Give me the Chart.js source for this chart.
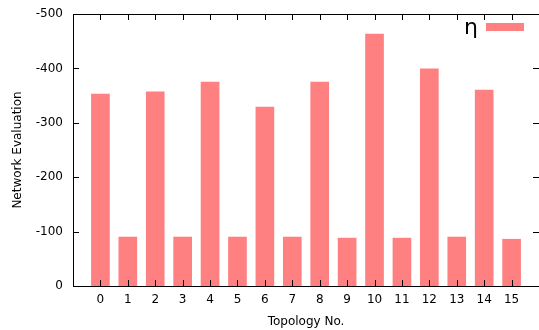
<!DOCTYPE html>
<html>
<head>
<meta charset="utf-8">
<script src="https://cdn.jsdelivr.net/npm/chart.js@4.4.1/dist/chart.umd.min.js"></script>
<style>
  html, body { margin: 0; padding: 0; background: #fff; }
  #wrap { width: 539px; height: 330px; position: relative; }
</style>
</head>
<body>
<div id="wrap"><canvas id="chart"></canvas></div>
<script>
// data
const topology = [0, 1, 2, 3, 4, 5, 6, 7, 8, 9, 10, 11, 12, 13, 14, 15];
const evaluation = [-353, -90, -357, -90, -375, -90, -329, -90, -375, -88, -463, -88, -399, -90, -360, -86];
const seriesLabel = "η";
const yMin = -500;
const yMax = 0;
const yStep = 100;

const pink = "#ff8080";
const font = "'DejaVu Sans', sans-serif";

// gnuplot-like frame with inward ticks on all four sides, plus the key
const framePlugin = {
  id: "frame",
  afterDatasetsDraw(chart) {
    const { ctx, chartArea: a, scales } = chart;
    const tl = 6;
    ctx.save();
    ctx.strokeStyle = "#000";
    ctx.lineWidth = 1;
    ctx.beginPath();
    ctx.moveTo(a.right + 0.5, a.top + 0.5);
    ctx.lineTo(a.left + 0.5, a.top + 0.5);
    ctx.lineTo(a.left + 0.5, a.bottom + 0.5);
    ctx.lineTo(a.right + 0.5, a.bottom + 0.5);
    ctx.lineTo(a.right + 0.5, a.top + 0.5);
    ctx.stroke();

    ctx.beginPath();
    scales.x.ticks.forEach(t => {
      const px = Math.round(scales.x.getPixelForValue(t.value)) + 0.5;
      ctx.moveTo(px, a.bottom);
      ctx.lineTo(px, a.bottom - tl);
      ctx.moveTo(px, a.top);
      ctx.lineTo(px, a.top + tl);
    });
    scales.y.ticks.forEach(t => {
      const py = Math.round(scales.y.getPixelForValue(t.value)) + 0.5;
      ctx.moveTo(a.left, py);
      ctx.lineTo(a.left + tl, py);
      ctx.moveTo(a.right, py);
      ctx.lineTo(a.right - tl, py);
    });
    ctx.stroke();

    // key: label then swatch
    ctx.fillStyle = "#000";
    ctx.font = "22px " + font;
    ctx.textAlign = "right";
    ctx.textBaseline = "alphabetic";
    ctx.fillText(seriesLabel, a.right - 61, a.top + 20);
    ctx.fillStyle = pink;
    ctx.fillRect(a.right - 53, a.top + 9, 38, 8);
    ctx.restore();
  }
};

new Chart(document.getElementById("chart"), {
  type: "bar",
  data: {
    datasets: [{
      label: seriesLabel,
      data: topology.map((t, i) => ({ x: t, y: evaluation[i] })),
      backgroundColor: pink,
      borderWidth: 0,
      barThickness: 18
    }]
  },
  options: {
    responsive: true,
    maintainAspectRatio: false,
    animation: false,
    layout: { padding: { top: 14, right: -1, left: 0, bottom: 0 } },
    plugins: {
      legend: { display: false },
      tooltip: { enabled: false }
    },
    scales: {
      x: {
        type: "linear",
        offset: false,
        min: -1,
        max: 16,
        grid: { display: false, drawTicks: false, offset: false },
        border: { display: false },
        afterFit: s => {
          s.height = 44;
          s.paddingLeft = 0;
          s.paddingRight = 0;
        },
        ticks: {
          stepSize: 1,
          autoSkip: false,
          maxRotation: 0,
          padding: 7,
          color: "#000",
          font: { family: font, size: 12 },
          callback: v => (v >= 0 && v <= 15 ? String(v) : "")
        },
        title: {
          display: true,
          text: "Topology No.",
          color: "#000",
          font: { family: font, size: 12 },
          padding: { top: 0, bottom: 1 }
        }
      },
      y: {
        min: yMin,
        max: yMax,
        reverse: true,
        grid: { display: false, drawTicks: false },
        border: { display: false },
        afterFit: s => {
          s.width = 73;
          s.paddingTop = 0;
          s.paddingBottom = 0;
        },
        ticks: {
          stepSize: yStep,
          padding: 10,
          color: "#000",
          font: { family: font, size: 12 },
          callback: v => String(v)
        },
        title: {
          display: true,
          text: "Network Evaluation",
          color: "#000",
          font: { family: font, size: 12 },
          padding: { top: 11, bottom: 0 }
        }
      }
    }
  },
  plugins: [framePlugin]
});
</script>
</body>
</html>
